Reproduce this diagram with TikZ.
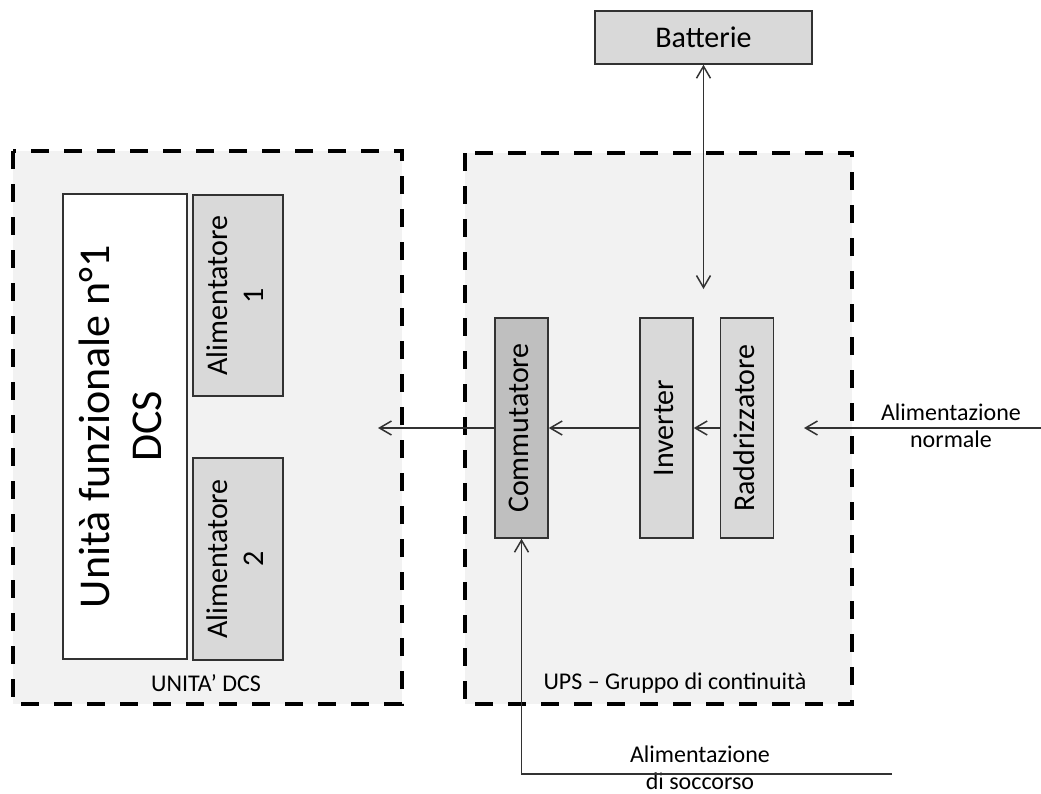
\documentclass[tikz,border=0pt]{standalone}
\usepackage{fontspec}
\setmainfont{Carlito}
\usepackage{tikz}
\usetikzlibrary{arrows.meta, positioning}
\definecolor{grisclair}{RGB}{217,217,217}
\definecolor{grisfonce}{RGB}{191,191,191}
\definecolor{fond}{RGB}{242,242,242}
\definecolor{trait}{RGB}{50,50,50}
\newcommand\verticale[1]{\rotatebox{90}{\begin{tabular}{@{}c@{}}#1\end{tabular}}}

\begin{document}
\begin{tikzpicture}[x=0.5pt, y=-0.5pt, >={Straight Barb[length=6pt, width=7pt]},
    boite/.style={draw=trait, line width=0.75pt, fill=grisclair, inner sep=0pt,
      font=\fontsize{15pt}{18pt}\selectfont},
    cadre/.style={draw=black, fill=fond, line width=2pt, dash pattern=on 9pt off 7.5pt},
    fleche/.style={draw=trait, line width=0.75pt},
    legende/.style={font=\fontsize{12pt}{13.5pt}\selectfont, align=center, inner sep=1pt}]
    \useasboundingbox (0,0) rectangle (1041,794);
    % les deux cadres en pointillés
    \draw[cadre] (13,151) rectangle (402,704);
    \draw[cadre] (465,153) rectangle (852,704);
    \node[legende] (unitadcs) at (206,683) {UNITA’ DCS};
    \node[legende] (ups) at (675,683) {UPS – Gruppo di continuità};
    % unité DCS
    \node[boite, fill=white, minimum width=62pt, minimum height=232.5pt,
      font=\fontsize{22pt}{26pt}\selectfont] (unite) at (125,426.5)
      {\verticale{Unità funzionale n°1\\DCS}};
    \node[boite, minimum width=45pt, minimum height=100.5pt] (alim1) at (238,295.5)
      {\verticale{Alimentatore\\1}};
    \node[boite, minimum width=45pt, minimum height=101pt] (alim2) at (238,559)
      {\verticale{Alimentatore\\2}};
    % onduleur
    \node[boite, fill=grisfonce, minimum width=26.5pt, minimum height=110pt] (comm) at (521.5,428)
      {\verticale{Commutatore}};
    \node[boite, minimum width=26.5pt, minimum height=110pt] (inv) at (666.5,428)
      {\verticale{Inverter}};
    \node[boite, minimum width=26.5pt, minimum height=110pt, right=13pt of inv] (radd)
      {\verticale{Raddrizzatore}};
    \node[boite, minimum width=108.5pt, minimum height=26.5pt] (batt) at (703.5,37.5) {Batterie};
    % extrémités libres
    \coordinate (charge) at (703.5,289);
    \coordinate (reseau) at (1041,428);
    \coordinate (entree) at (804,428);
    \coordinate (sortie) at (378,428);
    \coordinate (secours) at (892,774);
    \node[legende] (normale) at (951,426) {Alimentazione\\normale};
    \node[legende] (soccorso) at (700,768) {Alimentazione\\di soccorso};
    % liaisons
    \draw[fleche, <->] (batt) -- (charge);
    \draw[fleche, ->] (reseau) -- (entree);
    \draw[fleche, ->] (radd) -- (inv);
    \draw[fleche, ->] (inv) -- (comm);
    \draw[fleche, ->] (comm) -- (sortie);
    \draw[fleche, ->] (secours) -| (comm.south);
\end{tikzpicture}
\end{document}
